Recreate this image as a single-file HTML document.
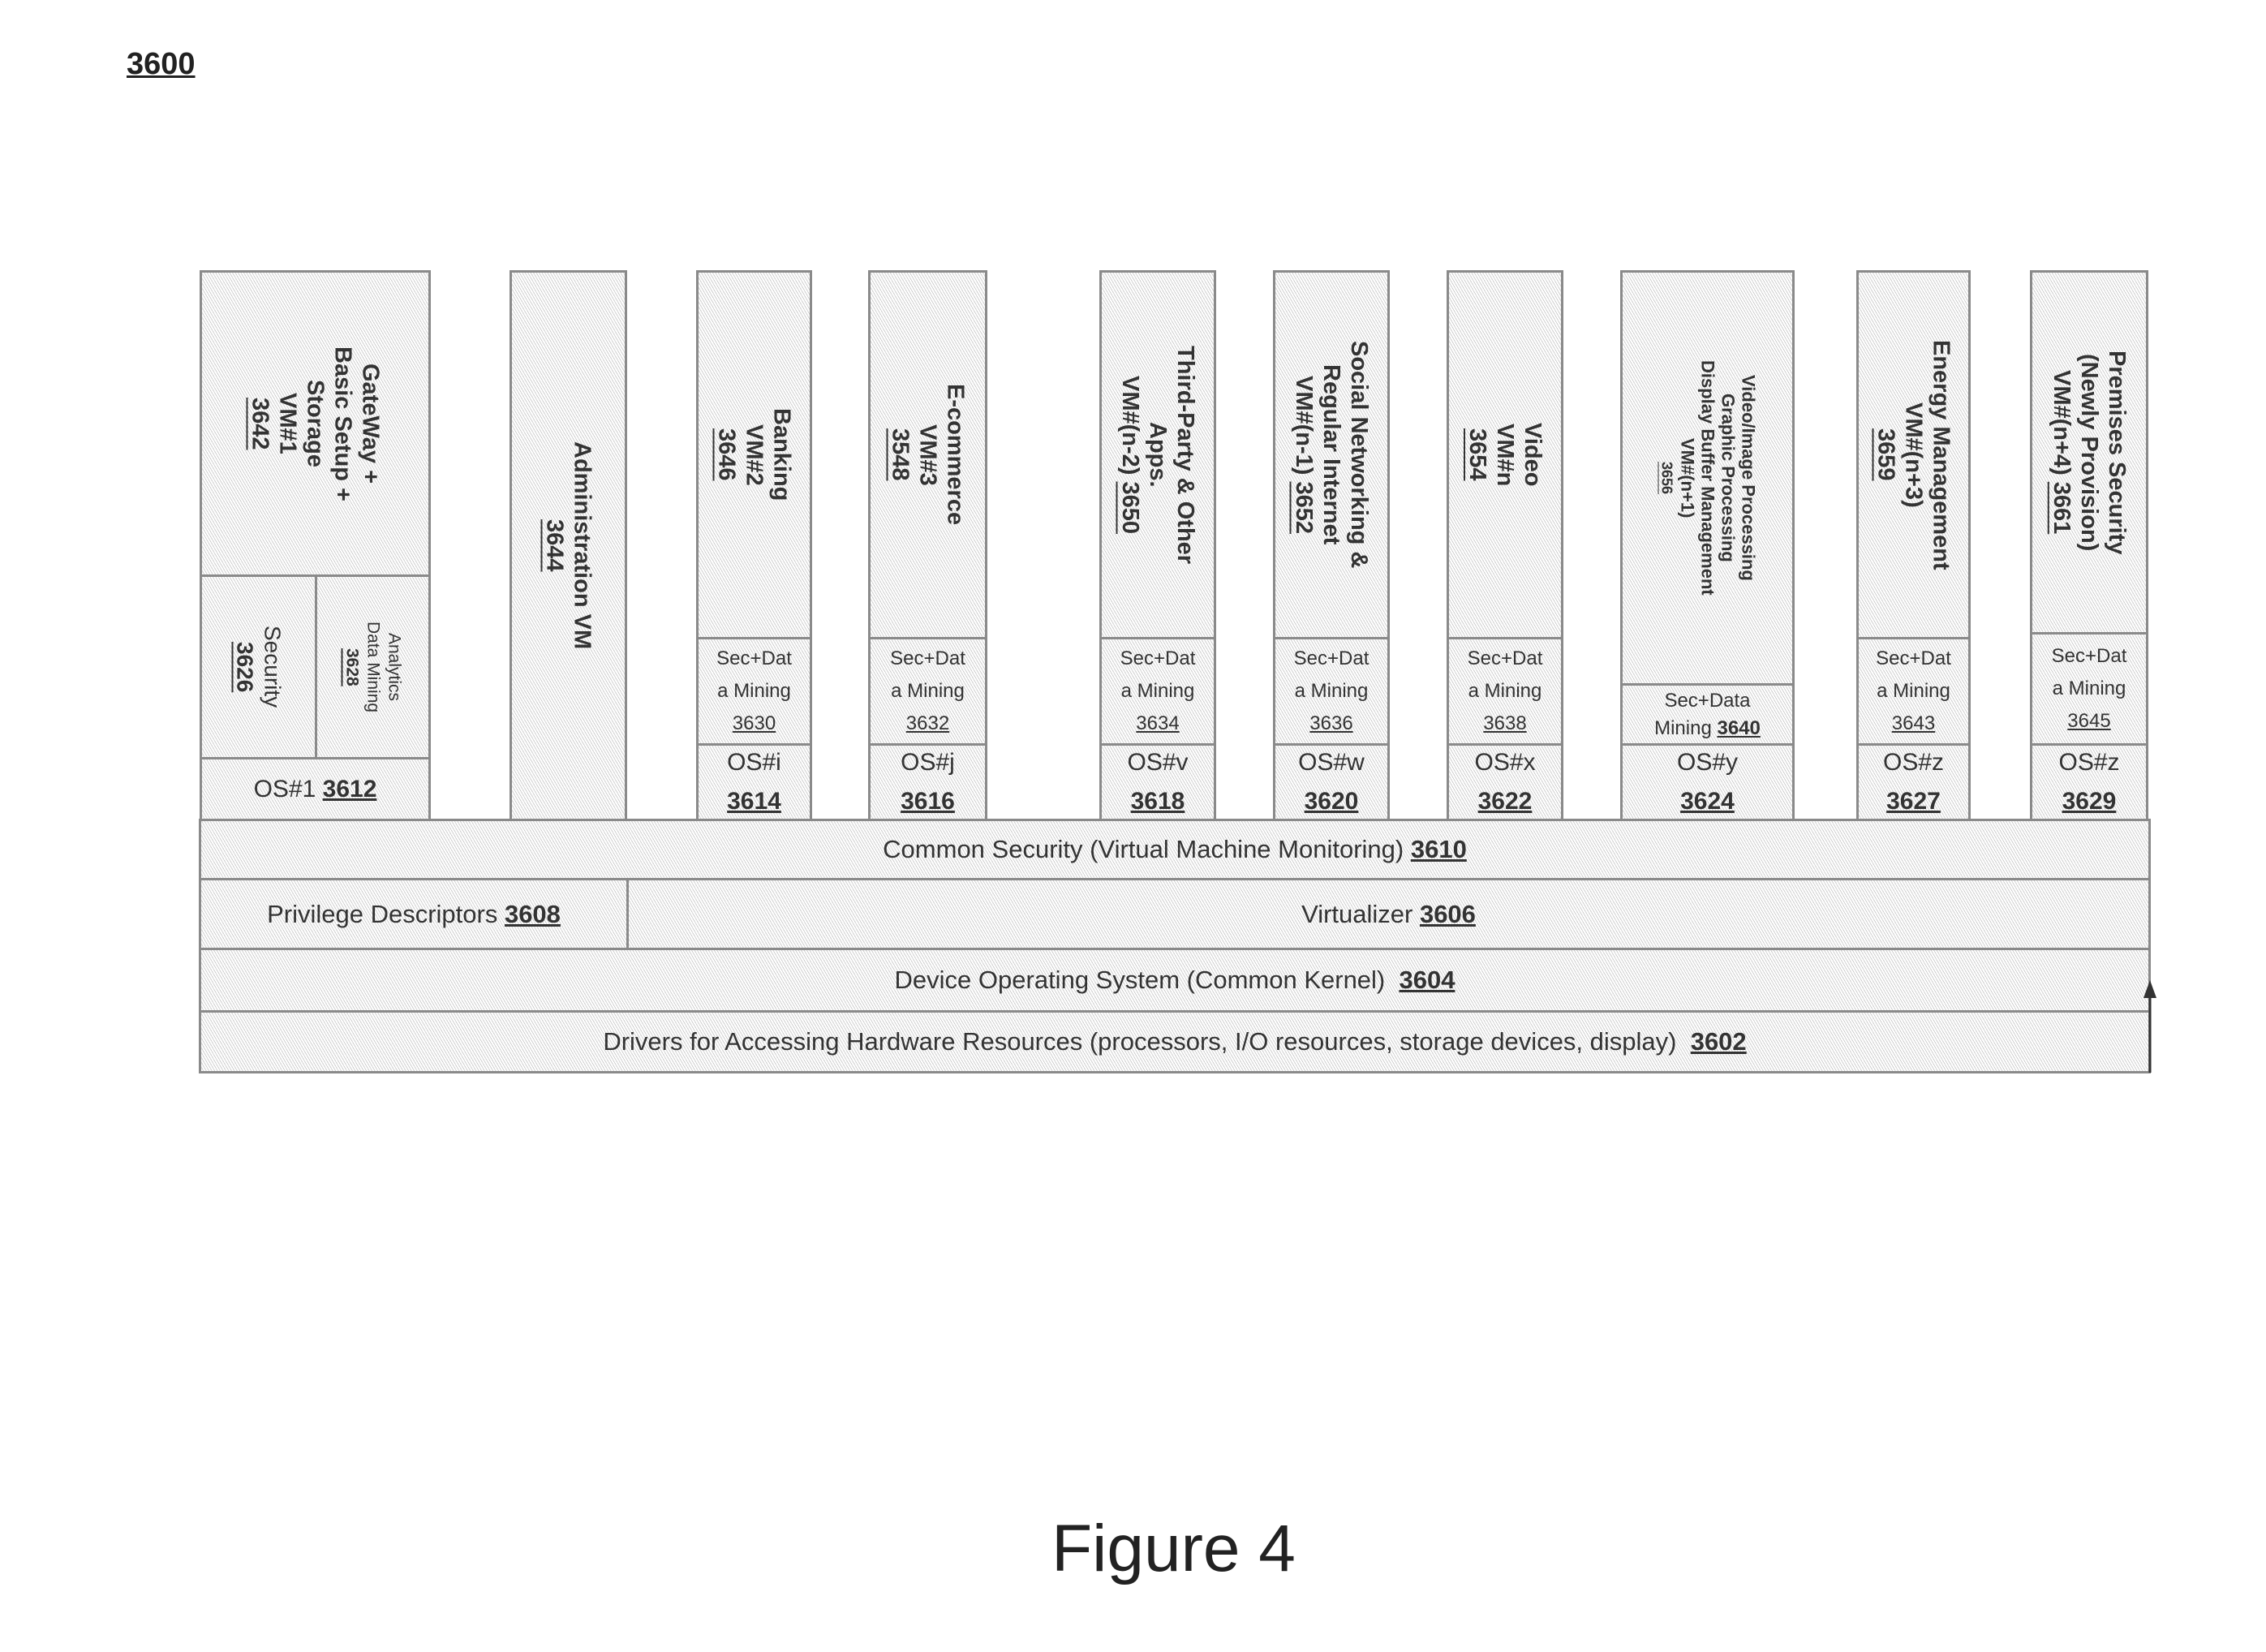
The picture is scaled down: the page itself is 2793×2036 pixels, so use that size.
<!DOCTYPE html>
<html><head><meta charset="utf-8">
<style>
body{margin:0;width:2793px;height:2036px;background:#fff;position:relative;overflow:hidden;font-family:"Liberation Sans",sans-serif;color:#333;}
.b{position:absolute;box-sizing:border-box;border:3px solid #8a8a8a;
background:repeating-linear-gradient(60deg,#fff 0 2px,#d0d0d0 2px 3px);
display:flex;align-items:center;justify-content:center;text-align:center;}
.v{writing-mode:vertical-rl;font-weight:bold;font-size:29px;line-height:34px;}
.s{font-size:24px;line-height:40px;}
.o{font-size:30px;line-height:48px;}
.h{font-size:31px;}
u{text-decoration:underline;}
.n{font-weight:bold;}
</style></head><body>
<div style="position:absolute;left:156px;top:58px;font-size:38px;font-weight:bold;text-decoration:underline;color:#222">3600</div>

<!-- col1 -->
<div class="b" style="left:246px;top:333px;width:285px;height:378px"><div class="v">GateWay +<br>Basic Setup +<br>Storage<br>VM#1<br><u>3642</u></div></div>
<div class="b" style="left:246px;top:708px;width:145px;height:228px"><div class="v" style="font-weight:normal;font-size:28px">Security<br><b><u>3626</u></b></div></div>
<div class="b" style="left:388px;top:708px;width:143px;height:228px"><div class="v" style="font-weight:normal;font-size:21px;line-height:26px">Analytics<br>Data Mining<br><b><u>3628</u></b></div></div>
<div class="b" style="left:246px;top:933px;width:285px;height:79px"><div class="o">OS#1 <b><u>3612</u></b></div></div>

<!-- admin -->
<div class="b" style="left:628px;top:333px;width:145px;height:679px"><div class="v">Administration VM<br><u>3644</u></div></div>

<div class="b" style="left:858px;top:333px;width:143px;height:455px"><div class="v">Banking<br>VM#2<br><u>3646</u></div></div>
<div class="b" style="left:858px;top:785px;width:143px;height:134px"><div class="s">Sec+Dat<br>a Mining<br><u>3630</u></div></div>
<div class="b" style="left:858px;top:916px;width:143px;height:96px"><div class="o">OS#i<br><span class="n"><u>3614</u></span></div></div>

<div class="b" style="left:1070px;top:333px;width:147px;height:455px"><div class="v">E-commerce<br>VM#3<br><u>3548</u></div></div>
<div class="b" style="left:1070px;top:785px;width:147px;height:134px"><div class="s">Sec+Dat<br>a Mining<br><u>3632</u></div></div>
<div class="b" style="left:1070px;top:916px;width:147px;height:96px"><div class="o">OS#j<br><span class="n"><u>3616</u></span></div></div>

<div class="b" style="left:1355px;top:333px;width:144px;height:455px"><div class="v">Third-Party &amp; Other<br>Apps.<br>VM#(n-2) <u>3650</u></div></div>
<div class="b" style="left:1355px;top:785px;width:144px;height:134px"><div class="s">Sec+Dat<br>a Mining<br><u>3634</u></div></div>
<div class="b" style="left:1355px;top:916px;width:144px;height:96px"><div class="o">OS#v<br><span class="n"><u>3618</u></span></div></div>

<div class="b" style="left:1569px;top:333px;width:144px;height:455px"><div class="v">Social Networking &amp;<br>Regular Internet<br>VM#(n-1) <u>3652</u></div></div>
<div class="b" style="left:1569px;top:785px;width:144px;height:134px"><div class="s">Sec+Dat<br>a Mining<br><u>3636</u></div></div>
<div class="b" style="left:1569px;top:916px;width:144px;height:96px"><div class="o">OS#w<br><span class="n"><u>3620</u></span></div></div>

<div class="b" style="left:1783px;top:333px;width:144px;height:455px"><div class="v">Video<br>VM#n<br><u>3654</u></div></div>
<div class="b" style="left:1783px;top:785px;width:144px;height:134px"><div class="s">Sec+Dat<br>a Mining<br><u>3638</u></div></div>
<div class="b" style="left:1783px;top:916px;width:144px;height:96px"><div class="o">OS#x<br><span class="n"><u>3622</u></span></div></div>

<div class="b" style="left:1997px;top:333px;width:215px;height:512px"><div class="v" style="font-size:22px;line-height:25px">Video/Image Processing<br>Graphic Processing<br>Display Buffer Management<br>VM#(n+1)<br><u style="font-size:18px">3656</u></div></div>
<div class="b" style="left:1997px;top:842px;width:215px;height:77px"><div class="s" style="line-height:34px">Sec+Data<br>Mining <u class="n">3640</u></div></div>
<div class="b" style="left:1997px;top:916px;width:215px;height:96px"><div class="o">OS#y<br><span class="n"><u>3624</u></span></div></div>

<div class="b" style="left:2288px;top:333px;width:141px;height:455px"><div class="v">Energy Management<br>VM#(n+3)<br><u>3659</u></div></div>
<div class="b" style="left:2288px;top:785px;width:141px;height:134px"><div class="s">Sec+Dat<br>a Mining<br><u>3643</u></div></div>
<div class="b" style="left:2288px;top:916px;width:141px;height:96px"><div class="o">OS#z<br><span class="n"><u>3627</u></span></div></div>

<div class="b" style="left:2502px;top:333px;width:146px;height:449px"><div class="v">Premises Security<br>(Newly Provision)<br>VM#(n+4) <u>3661</u></div></div>
<div class="b" style="left:2502px;top:779px;width:146px;height:140px"><div class="s">Sec+Dat<br>a Mining<br><u>3645</u></div></div>
<div class="b" style="left:2502px;top:916px;width:146px;height:96px"><div class="o">OS#z<br><span class="n"><u>3629</u></span></div></div>

<!-- layers -->
<div class="b" style="left:245px;top:1009px;width:2406px;height:76px"><div class="h">Common Security (Virtual Machine Monitoring) <b><u>3610</u></b></div></div>
<div class="b" style="left:245px;top:1082px;width:530px;height:89px"><div class="h">Privilege Descriptors <b><u>3608</u></b></div></div>
<div class="b" style="left:772px;top:1082px;width:1879px;height:89px"><div class="h">Virtualizer <b><u>3606</u></b></div></div>
<div class="b" style="left:245px;top:1168px;width:2406px;height:80px"><div class="h">Device Operating System (Common Kernel) &nbsp;<b><u>3604</u></b></div></div>
<div class="b" style="left:245px;top:1245px;width:2406px;height:78px"><div class="h">Drivers for Accessing Hardware Resources (processors, I/O resources, storage devices, display) &nbsp;<b><u>3602</u></b></div></div>

<svg style="position:absolute;left:0;top:0" width="2793" height="2036">
<line x1="2650" y1="1322" x2="2650" y2="1226" stroke="#333" stroke-width="3"/>
<polygon points="2650,1208 2642,1230 2658,1230" fill="#333"/>
</svg>

<div style="position:absolute;left:0;width:2893px;top:1862px;text-align:center;font-size:82px;color:#222">Figure 4</div>
</body></html>
